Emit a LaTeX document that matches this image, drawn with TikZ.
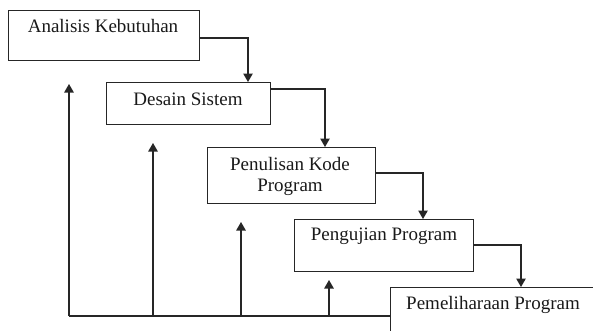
\documentclass[tikz,border=0pt]{standalone}
\usepackage{fontspec}
\setmainfont{Liberation Serif}
\usetikzlibrary{arrows.meta}
\begin{document}
\begin{tikzpicture}[x=1pt,y=-1pt,
  box/.style={draw=black!85, line width=1.1pt, rectangle, anchor=north west, inner sep=0pt},
  lbl/.style={font=\fontsize{19}{21}\selectfont, text=black!90, inner sep=0pt, align=center},
  ln/.style={draw=black!85, line width=1.1pt},
  arr/.style={draw=black!85, line width=1.1pt, -{Triangle[length=8.5pt,width=9.5pt]}}]
\useasboundingbox (0,0) rectangle (593,330);
\clip (0,0) rectangle (593,330);
\node[box, minimum width=191pt, minimum height=50pt] (b1) at (8,10) {};
\node[box, minimum width=164pt, minimum height=42pt] (b2) at (106,82) {};
\node[box, minimum width=168pt, minimum height=56pt] (b3) at (207,147) {};
\node[box, minimum width=179pt, minimum height=52pt] (b4) at (294,219) {};
\node[box, minimum width=260pt, minimum height=80pt] (b5) at (390,287) {};
\node[lbl] (t1) at (103,26) {Analisis Kebutuhan};
\node[lbl] (t2) at (188,99) {Desain Sistem};
\node[lbl] (t3) at (290,176) {Penulisan Kode\\Program};
\node[lbl] (t4) at (384,236) {Pengujian Program};
\node[lbl] (t5) at (493,305) {Pemeliharaan Program};
\coordinate (c1) at (248,38);
\coordinate (c2) at (325,89);
\coordinate (c3) at (423,173);
\coordinate (c4) at (521,245);
\draw[arr] (b1.east |- c1) -| (b2.north -| c1);
\draw[arr] (b2.east |- c2) -| (b3.north -| c2);
\draw[arr] (b3.east |- c3) -| (b4.north -| c3);
\draw[arr] (b4.east |- c4) -| (b5.north -| c4);
\coordinate (f) at (69,316);
\coordinate (a1) at (69,84);
\coordinate (a2) at (153,143);
\coordinate (a3) at (241,222);
\coordinate (a4) at (329,280);
\draw[ln] (b5.west |- f) -- (f);
\draw[arr] (f) -- (a1);
\draw[arr] (a2 |- f) -- (a2);
\draw[arr] (a3 |- f) -- (a3);
\draw[arr] (a4 |- f) -- (a4);
\end{tikzpicture}
\end{document}
